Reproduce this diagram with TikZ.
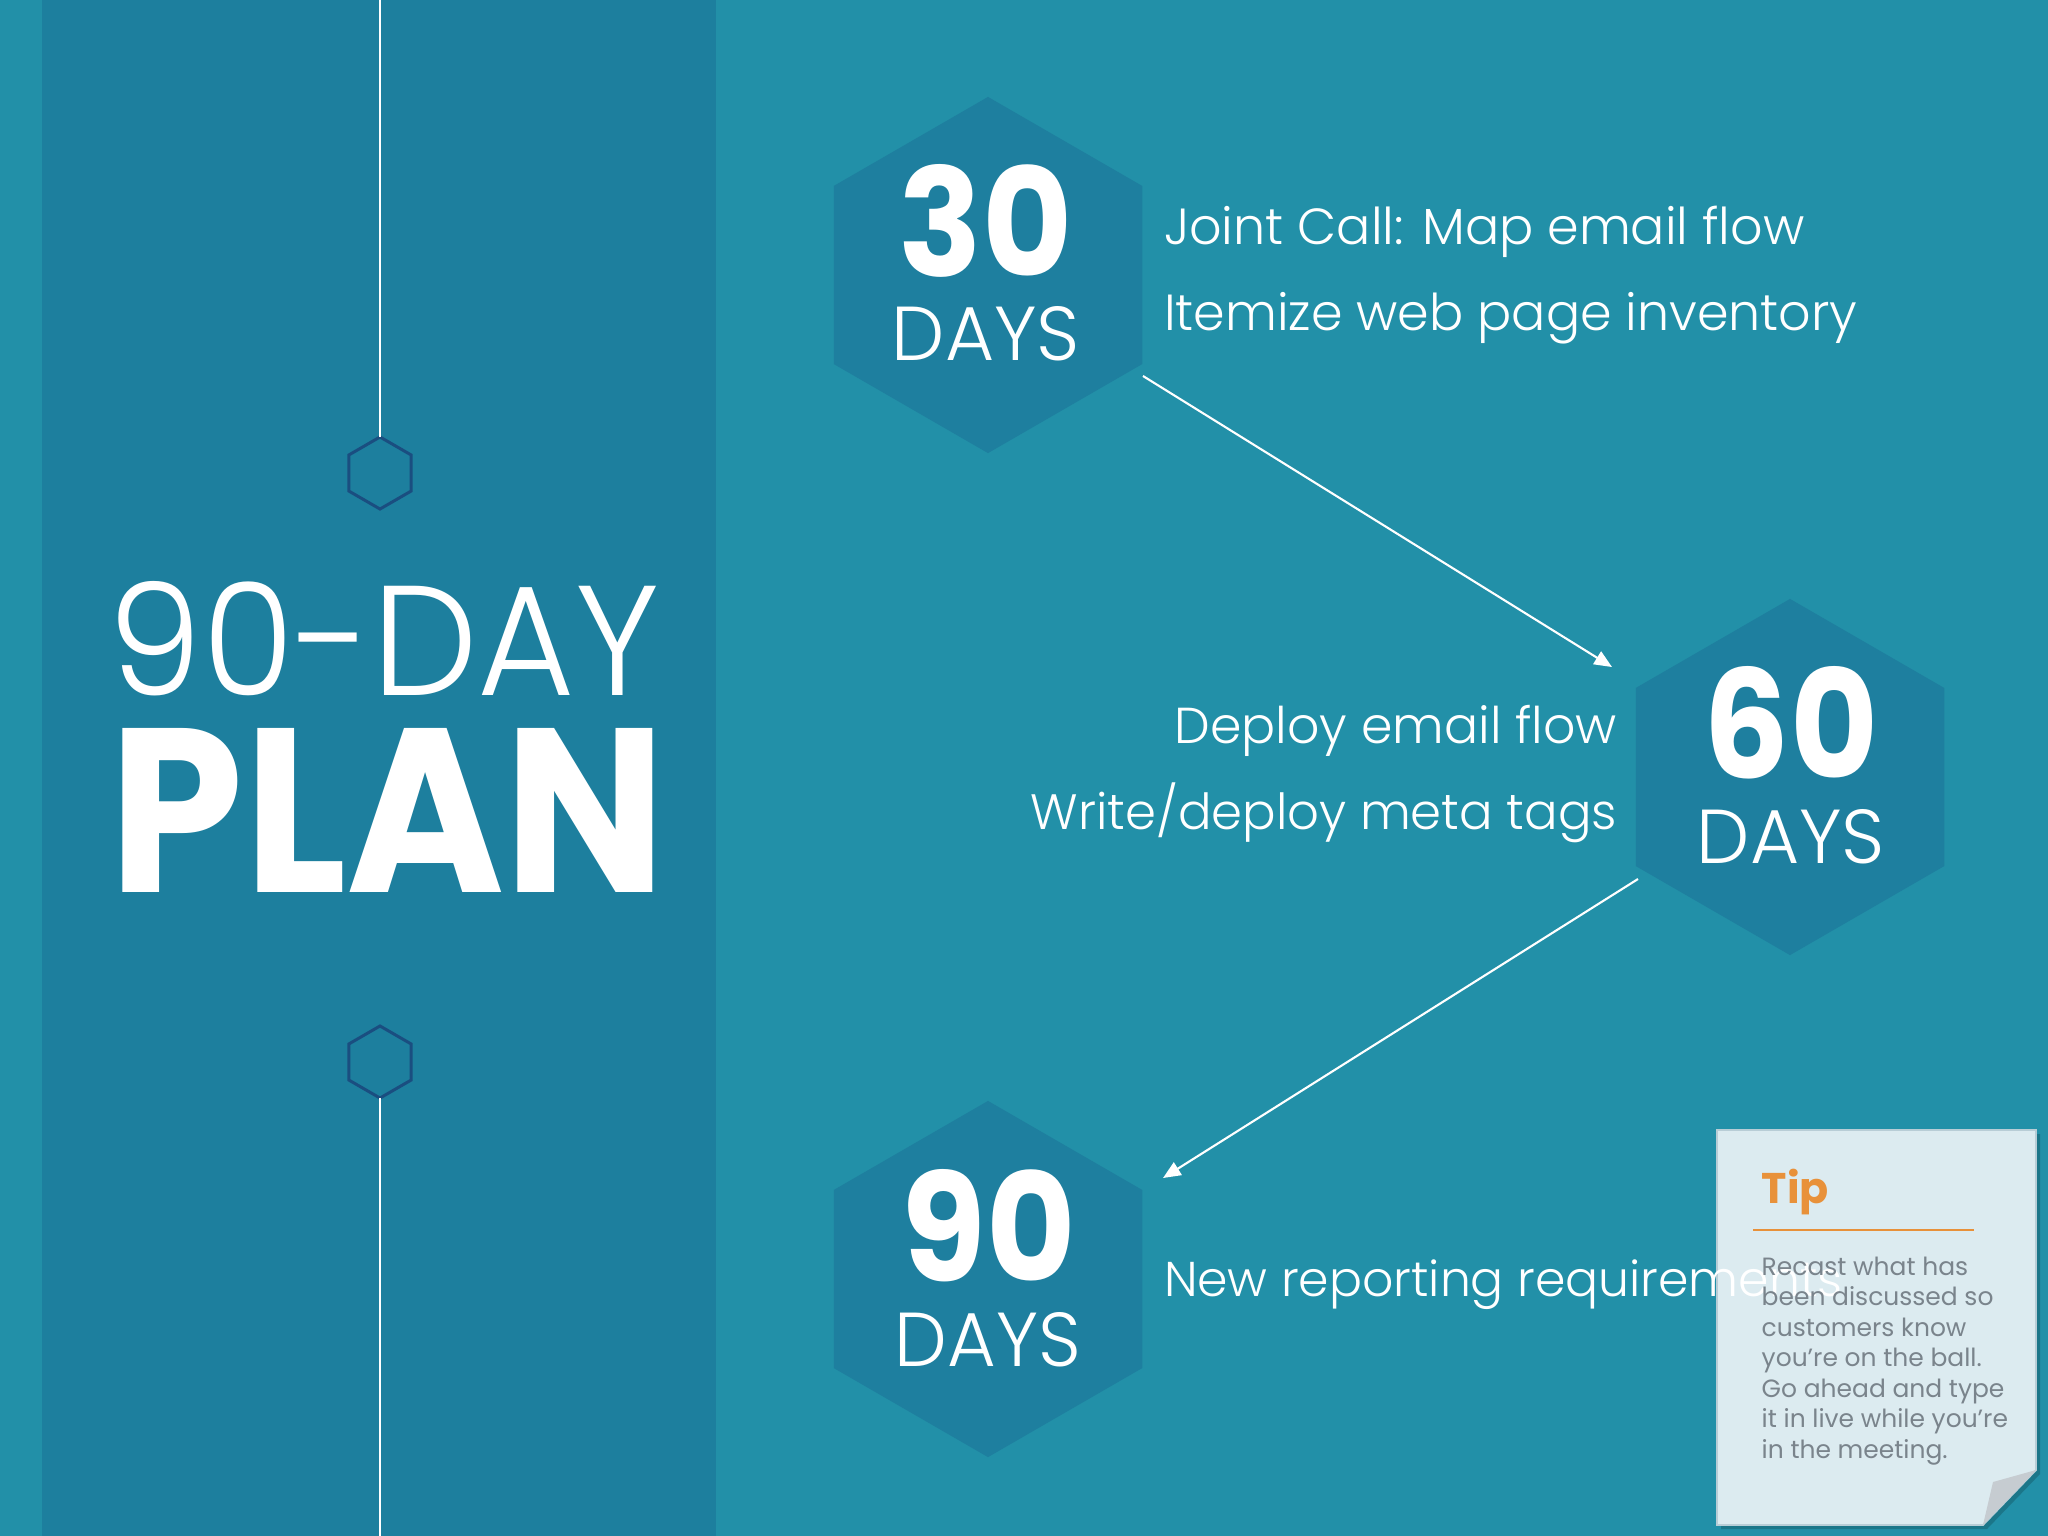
\documentclass[tikz,border=0pt]{standalone}
\usepackage{fontspec}
\usepackage{graphicx}
\setmainfont{Poppins}
\IfFontExistsTF{Poppins Light}{\newfontfamily\lightfont{Poppins Light}}{\newfontfamily\lightfont{Poppins}}
\usetikzlibrary{shapes.geometric,arrows.meta}
\definecolor{bgc}{HTML}{2290A8}
\definecolor{bandc}{HTML}{1D7F9E}
\definecolor{hexc}{HTML}{1E7F9F}
\definecolor{smallhexc}{HTML}{1A4E80}
\definecolor{notec}{HTML}{DCEBF0}
\definecolor{noteedge}{HTML}{B8CDD6}
\definecolor{flapc}{HTML}{C6CCD1}
\definecolor{tipc}{HTML}{E8913A}
\definecolor{tiptext}{HTML}{7A848C}
\tikzset{
  bighex/.style={regular polygon, regular polygon sides=6, shape border rotate=30,
    minimum size=3.56cm, inner sep=0pt, outer sep=0pt, fill=hexc, draw=none},
  smallhex/.style={regular polygon, regular polygon sides=6, shape border rotate=30,
    minimum size=0.72cm, inner sep=0pt, outer sep=0pt, draw=smallhexc, line width=0.85pt},
  whitetxt/.style={inner sep=0pt, outer sep=0pt, text=white},
  flowarrow/.style={draw=white, line width=0.6pt, -{Triangle[length=5pt,width=4.2pt]}},
  vline/.style={draw=white, line width=0.6pt},
}
\begin{document}
\begin{tikzpicture}[x=0.01cm, y=-0.01cm]
\useasboundingbox (0,0) rectangle (2048,1536);
\fill[bgc] (0,0) rectangle (2048,1536);
\fill[bandc] (42,0) rectangle (716,1536);

% small hexagons and vertical lines
\node[smallhex] (sh1) at (380,473) {};
\node[smallhex] (sh2) at (380,1062) {};
\coordinate (ltop) at (380,0);
\coordinate (lbot) at (380,1536);
\draw[vline] (ltop) -- (sh1.north);
\draw[vline] (sh2.south) -- (lbot);

% title
\node[whitetxt, anchor=base west] (t1) at (109,695) {\resizebox{5.50cm}{1.14cm}{\lightfont 90-DAY}};
\node[whitetxt, anchor=base west] (t2) at (110,892) {\resizebox{5.56cm}{1.64cm}{\bfseries PLAN}};

% big hexagons
\node[bighex] (h30) at (988,275) {};
\node[bighex] (h60) at (1790,777) {};
\node[bighex] (h90) at (988,1279) {};

\node[whitetxt, anchor=base] (n30) at (986,276) {\resizebox{1.74cm}{1.12cm}{\bfseries 30}};
\node[whitetxt, anchor=base] (d30) at (986,360) {\resizebox{1.88cm}{0.54cm}{\lightfont DAYS}};
\node[whitetxt, anchor=base] (n60) at (1791,778) {\resizebox{1.74cm}{1.12cm}{\bfseries 60}};
\node[whitetxt, anchor=base] (d60) at (1791,863) {\resizebox{1.88cm}{0.54cm}{\lightfont DAYS}};
\node[whitetxt, anchor=base] (n90) at (989,1281) {\resizebox{1.74cm}{1.12cm}{\bfseries 90}};
\node[whitetxt, anchor=base] (d90) at (988,1366) {\resizebox{1.86cm}{0.54cm}{\lightfont DAYS}};

% tasks
\node[whitetxt, anchor=base west] (j1) at (1164,244) {\resizebox{6.40cm}{!}{\lightfont Joint Call: Map email flow}};
\node[whitetxt, anchor=base west] (j2) at (1164,330) {\resizebox{6.93cm}{!}{\lightfont Itemize web page inventory}};
\node[whitetxt, anchor=base east] (k1) at (1617,743) {\resizebox{4.42cm}{!}{\lightfont Deploy email flow}};
\node[whitetxt, anchor=base east] (k2) at (1617,829) {\resizebox{5.86cm}{!}{\lightfont Write/deploy meta tags}};

% arrows
\draw[flowarrow] ([shift={(155,101)}]h30.center) -- ([shift={(-178,-110)}]h60.center);
\draw[flowarrow] ([shift={(-152,102)}]h60.center) -- ([shift={(175,-101)}]h90.center);

% tip note
\fill[black, opacity=0.18] (1721,1134) -- (2040,1134) -- (2040,1474) -- (1987,1529) -- (1721,1529) -- cycle;
\filldraw[fill=notec, draw=noteedge, line width=0.5pt] (1717,1130) -- (2036,1130) -- (2036,1470) -- (1983,1525) -- (1717,1525) -- cycle;
\fill[flapc] (2036,1470) -- (1993,1482) -- (1983,1525) -- cycle;

\node[whitetxt, anchor=base west] (m1) at (1164,1296) {\resizebox{6.78cm}{!}{\lightfont New reporting requirements}};

\node[inner sep=0pt, anchor=base west, text=tipc] (tip) at (1761,1203) {\fontsize{12.2pt}{14pt}\selectfont\bfseries Tip};
\coordinate (r1) at (1753,1230);
\coordinate (r2) at (1974,1230);
\draw[tipc, line width=0.75pt] (r1) -- (r2);
\node[inner sep=0pt, anchor=north west, text=tiptext, align=left, font=\fontsize{7.1pt}{8.68pt}\selectfont] (body) at (1761,1256)
 {Recast what has\\been discussed so\\customers know\\you’re on the ball.\\Go ahead and type\\it in live while you’re\\in the meeting.};
\end{tikzpicture}
\end{document}
